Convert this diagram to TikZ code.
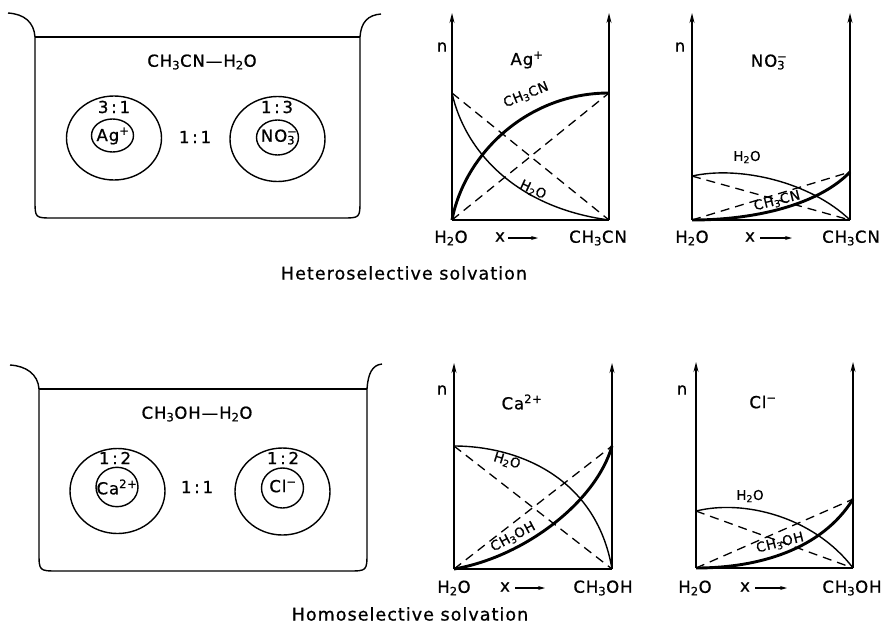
\documentclass[tikz,border=0pt]{standalone}
\usepackage{fontspec}
\setmainfont{DejaVu Sans}[LetterSpace=6,FakeBold=0.8]
\usetikzlibrary{arrows.meta}
\newcommand{\sbx}[1]{\textsubscript{#1}}
\newcommand{\spx}[1]{\textsuperscript{#1}}
\newcommand{\sbsp}[2]{\rlap{\textsuperscript{#2}}\textsubscript{#1}}
\tikzset{
  thinl/.style={line width=1.4pt},
  bold/.style={line width=2.9pt},
  dsh/.style={line width=1.3pt, dash pattern=on 9pt off 6pt},
  axis/.style={line width=1.4pt, -{Stealth[length=10pt,width=5pt]}},
  xarr/.style={line width=1.1pt, -{Stealth[length=7pt,width=4pt]}},
  lbl/.style={font=\fontsize{16.5}{19}\selectfont, inner sep=0pt},
  sml/.style={font=\fontsize{13.5}{16}\selectfont, inner sep=0pt},
  capt/.style={font=\fontsize{17.5}{20}\selectfont, inner sep=0pt},
}
\begin{document}
\begin{tikzpicture}[x=1pt,y=-1pt]
\useasboundingbox (0,0) rectangle (883,635);
% ---------------- top beaker
\draw[thinl] (8,13) .. controls (24,14) and (34,22) .. (35,37) -- (35,200)
  .. controls (35,218) .. (53,218) -- (342,218) .. controls (360,218) .. (360,200)
  -- (360,37) .. controls (361,22) and (368,15) .. (381,14);
\draw[thinl] (35,37) -- (360,37);
\draw[thinl] (114,138) ellipse [x radius=47.5, y radius=42];
\draw[thinl] (112.5,135.5) ellipse [x radius=21, y radius=16.5];
\draw[thinl] (277.5,139) ellipse [x radius=47.5, y radius=42.5];
\draw[thinl] (277.5,137.5) ellipse [x radius=21, y radius=17.5];
\node[lbl] (solv1) at (202,62) {CH\sbx{3}CN—H\sbx{2}O};
\node[lbl] (r31) at (114,107) {3\,:\,1};
\node[lbl] (ag) at (113,136) {Ag\spx{+}};
\node[lbl] (r11a) at (195,137) {1\,:\,1};
\node[lbl] (r13) at (277,107) {1\,:\,3};
\node[lbl] (no3) at (278,137) {NO\sbsp{3}{−}};
% ---------------- bottom beaker
\draw[thinl] (10,365) .. controls (26,366) and (38,374) .. (39,389) -- (39,552)
  .. controls (39,571) .. (58,571) -- (348,571) .. controls (367,571) .. (367,552)
  -- (367,389) .. controls (368,374) and (372,365) .. (382,364);
\draw[thinl] (39,389) -- (367,389);
\draw[thinl] (117.5,491) ellipse [x radius=47.5, y radius=42.5];
\draw[thinl] (117,487) ellipse [x radius=21, y radius=19.7];
\draw[thinl] (282.5,491.5) ellipse [x radius=47.5, y radius=43.5];
\draw[thinl] (282.5,488) ellipse [x radius=21, y radius=20];
\node[lbl] (solv2) at (197,414) {CH\sbx{3}OH—H\sbx{2}O};
\node[lbl] (r12a) at (115,458) {1\,:\,2};
\node[lbl] (ca) at (117,487) {Ca\spx{2+}};
\node[lbl] (r11b) at (197,487) {1\,:\,1};
\node[lbl] (r12b) at (283,458) {1\,:\,2};
\node[lbl] (cl) at (283,486) {Cl\spx{−}};
% ---------------- graph Ag+
\begin{scope}[shift={(452,220)}, x=157pt, y=127pt]
\draw[axis] (0,0) -- (0,1.63);
\draw[axis] (1,0) -- (1,1.63);
\draw[thinl] (0,0) -- (1,0);
\draw[dsh] (0,1) -- (1,0);
\draw[dsh] (0,0) -- (1,1);
\draw[bold] (0,0) .. controls (0.08,0.52) and (0.48,1) .. (1,1);
\draw[thinl] (0,1) .. controls (0.08,0.55) and (0.4,0.1) .. (1,0);
\end{scope}
\node[lbl] (n1) at (442,47) {n};
\node[lbl] (t1) at (527,60) {Ag\spx{+}};
\node[sml,rotate=22] (c1a) at (526,95) {CH\sbx{3}CN};
\node[sml,rotate=-25] (c1b) at (533,190) {H\sbx{2}O};
\node[lbl] (h1) at (451,238) {H\sbx{2}O};
\node[lbl] (x1) at (500,237) {x};
\coordinate (xa1) at (508,238); \coordinate (xb1) at (538,238);
\draw[xarr] (xa1) -- (xb1);
\node[lbl] (s1) at (598,238) {CH\sbx{3}CN};
% ---------------- graph NO3-
\begin{scope}[shift={(692,220)}, x=158pt, y=127pt]
\draw[axis] (0,0) -- (0,1.63);
\draw[axis] (1,0) -- (1,1.63);
\draw[thinl] (0,0) -- (1,0);
\draw[dsh] (0,0.346) -- (1,0);
\draw[dsh] (0,0) -- (1,0.378);
\draw[thinl] (0,0.346) .. controls (0.3,0.43) and (0.75,0.3) .. (1,0);
\draw[bold] (0,0) .. controls (0.4,0) and (0.8,0.12) .. (1,0.378);
\end{scope}
\node[lbl] (n2) at (680,47) {n};
\node[lbl] (t2) at (768,62) {NO\sbsp{3}{−}};
\node[sml] (c2a) at (747,157) {H\sbx{2}O};
\node[sml,rotate=14] (c2b) at (777,201) {CH\sbx{3}CN};
\node[lbl] (h2) at (692,238) {H\sbx{2}O};
\node[lbl] (x2) at (750,237) {x};
\coordinate (xa2) at (760,238); \coordinate (xb2) at (792,238);
\draw[xarr] (xa2) -- (xb2);
\node[lbl] (s2) at (851,238) {CH\sbx{3}CN};
% ---------------- graph Ca2+
\begin{scope}[shift={(454,569)}, x=158pt, y=123pt]
\draw[axis] (0,0) -- (0,1.675);
\draw[axis] (1,0) -- (1,1.675);
\draw[thinl] (0,0) -- (1,0);
\draw[dsh] (0,1) -- (1,0);
\draw[dsh] (0,0) -- (1,1);
\draw[thinl] (0,1) .. controls (0.4,1) and (0.9,0.75) .. (1,0);
\draw[bold] (0,0) .. controls (0.45,0.1) and (0.9,0.55) .. (1,1);
\end{scope}
\node[lbl] (n3) at (442,390) {n};
\node[lbl] (t3) at (522,402) {Ca\spx{2+}};
\node[sml,rotate=-17] (c3a) at (507,461) {H\sbx{2}O};
\node[sml,rotate=28] (c3b) at (513,537) {CH\sbx{3}OH};
\node[lbl] (h3) at (454,588) {H\sbx{2}O};
\node[lbl] (x3) at (505,587) {x};
\coordinate (xa3) at (515,588); \coordinate (xb3) at (545,588);
\draw[xarr] (xa3) -- (xb3);
\node[lbl] (s3) at (603,588) {CH\sbx{3}OH};
% ---------------- graph Cl-
\begin{scope}[shift={(696,568)}, x=157pt, y=123pt]
\draw[axis] (0,0) -- (0,1.675);
\draw[axis] (1,0) -- (1,1.675);
\draw[thinl] (0,0) -- (1,0);
\draw[dsh] (0,0.463) -- (1,0);
\draw[dsh] (0,0) -- (1,0.56);
\draw[thinl] (0,0.463) .. controls (0.3,0.56) and (0.75,0.42) .. (1,0);
\draw[bold] (0,0) .. controls (0.4,0) and (0.8,0.15) .. (1,0.56);
\end{scope}
\node[lbl] (n4) at (682,390) {n};
\node[lbl] (t4) at (763,402) {Cl\spx{−}};
\node[sml] (c4a) at (750,496) {H\sbx{2}O};
\node[sml,rotate=14] (c4b) at (780,543) {CH\sbx{3}OH};
\node[lbl] (h4) at (695,588) {H\sbx{2}O};
\node[lbl] (x4) at (745,587) {x};
\coordinate (xa4) at (755,588); \coordinate (xb4) at (787,588);
\draw[xarr] (xa4) -- (xb4);
\node[lbl] (s4) at (852,588) {CH\sbx{3}OH};
% ---------------- captions
\node[capt] (cap1) at (404,273) {Heteroselective solvation};
\node[capt] (cap2) at (410,614) {Homoselective solvation};
\end{tikzpicture}
\end{document}
